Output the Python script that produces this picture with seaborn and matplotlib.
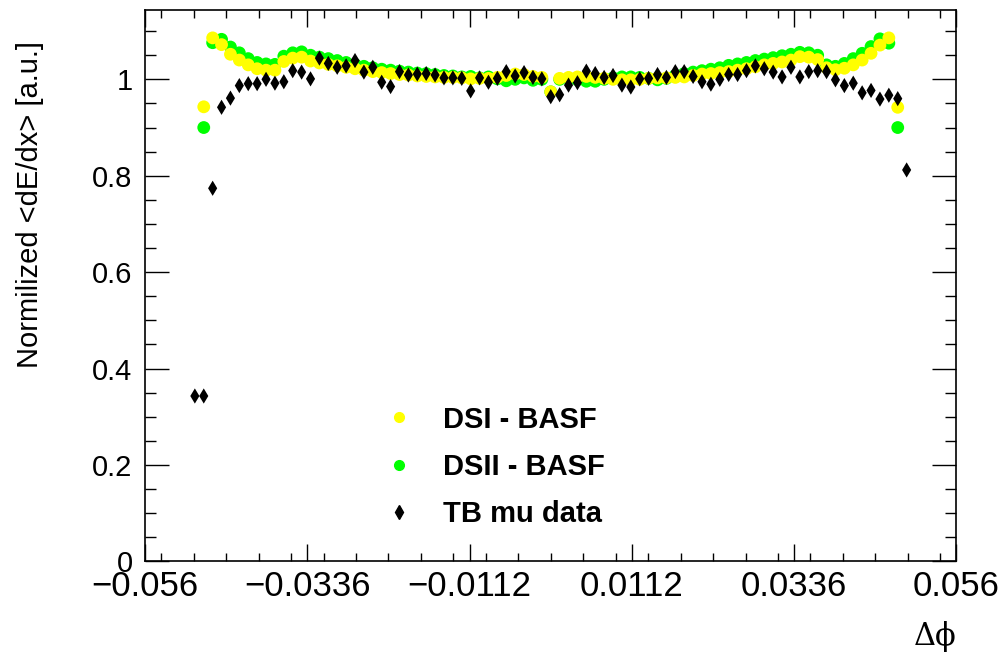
import numpy as np
import pandas as pd
import matplotlib
matplotlib.use("Agg")
import matplotlib.pyplot as plt
from matplotlib.lines import Line2D
from matplotlib.ticker import FixedLocator, MultipleLocator
import seaborn as sns

# ---- data -------------------------------------------------------------
bin_width = 0.001228
tb_bins = np.arange(-40, 41) * bin_width      # test-beam bin centres
sim_bins = np.arange(-39, 40) * bin_width     # simulation bin centres

dsi_basf = [
    0.943, 1.086, 1.072, 1.052, 1.040, 1.030, 1.022, 1.019, 1.019, 1.037,
    1.044, 1.046, 1.038, 1.034, 1.031, 1.028, 1.025, 1.022, 1.019, 1.016,
    1.014, 1.012, 1.010, 1.009, 1.007, 1.006, 1.005, 1.004, 1.004, 1.003,
    1.001, 1.002, 1.002, 1.004, 1.008, 1.011, 1.010, 1.006, 1.004, 0.974,
    1.002, 1.004, 1.005, 1.006, 1.004, 1.002, 1.000, 0.999, 0.999, 1.000,
    1.002, 1.003, 1.003, 1.004, 1.005, 1.008, 1.011, 1.012, 1.014, 1.016,
    1.019, 1.022, 1.026, 1.030, 1.033, 1.036, 1.040, 1.047, 1.046, 1.041,
    1.024, 1.020, 1.023, 1.030, 1.040, 1.054, 1.071, 1.086, 0.942,
]

dsii_basf = [
    0.900, 1.076, 1.083, 1.067, 1.055, 1.043, 1.035, 1.032, 1.031, 1.048,
    1.055, 1.057, 1.050, 1.046, 1.043, 1.039, 1.035, 1.031, 1.027, 1.024,
    1.021, 1.019, 1.017, 1.015, 1.013, 1.012, 1.010, 1.008, 1.007, 1.005,
    1.006, 1.003, 1.005, 1.001, 0.997, 1.000, 1.003, 0.998, 1.000, 0.974,
    1.000, 1.002, 0.999, 0.996, 0.996, 1.000, 1.003, 1.005, 1.005, 1.004,
    1.002, 0.999, 1.002, 1.008, 1.012, 1.015, 1.018, 1.021, 1.024, 1.029,
    1.032, 1.035, 1.039, 1.042, 1.045, 1.049, 1.052, 1.056, 1.055, 1.050,
    1.030, 1.027, 1.033, 1.043, 1.054, 1.068, 1.084, 1.075, 0.900,
]

tb_mu_data = [
    0.343, 0.343, 0.774, 0.942, 0.961, 0.987, 0.991, 0.991, 1.000, 0.992,
    0.995, 1.018, 1.015, 1.001, 1.044, 1.033, 1.025, 1.028, 1.039, 1.015,
    1.025, 0.994, 0.985, 1.016, 1.009, 1.011, 1.012, 1.009, 1.003, 1.003,
    1.002, 0.976, 1.003, 0.994, 1.002, 1.016, 1.007, 1.014, 1.004, 1.001,
    0.964, 0.968, 0.988, 0.993, 1.017, 1.012, 1.004, 1.008, 0.988, 0.984,
    1.001, 1.002, 1.010, 1.004, 1.016, 1.016, 1.006, 0.995, 0.990, 1.000,
    1.010, 1.010, 1.018, 1.028, 1.022, 1.015, 1.005, 1.025, 1.005, 1.016,
    1.018, 1.016, 0.999, 0.987, 0.992, 0.972, 0.977, 0.959, 0.967, 0.960,
    0.812,
]
tb_mu_err = 0.009

series_labels = ["DSI - BASF", "DSII - BASF", "TB mu data"]
x_ticks = [-0.056, -0.0336, -0.0112, 0.0112, 0.0336, 0.056]
x_tick_labels = ["\u22120.056", "\u22120.0336", "\u22120.0112", "0.0112", "0.0336", "0.056"]
y_ticks = [0, 0.2, 0.4, 0.6, 0.8, 1.0]
y_tick_labels = ["0", "0.2", "0.4", "0.6", "0.8", "1"]

sim = pd.concat([
    pd.DataFrame({"dphi": sim_bins, "dedx": dsii_basf, "sample": series_labels[1]}),
    pd.DataFrame({"dphi": sim_bins, "dedx": dsi_basf, "sample": series_labels[0]}),
])
tb = pd.DataFrame({"dphi": tb_bins, "dedx": tb_mu_data})

# ---- style ------------------------------------------------------------
sns.set_style("ticks")
plt.rcParams["font.family"] = ["Liberation Sans", "DejaVu Sans"]
plt.rcParams["axes.linewidth"] = 1.2
plt.rcParams["text.color"] = "black"
plt.rcParams["axes.labelcolor"] = "black"
plt.rcParams["xtick.color"] = "black"
plt.rcParams["ytick.color"] = "black"

YELLOW = "#ffff00"
GREEN = "#00ff00"

fig = plt.figure(figsize=(9.98, 6.55), dpi=100)
ax = fig.add_axes([0.1453, 0.1430, 0.8131, 0.8417])

# simulation samples (DSII underneath, DSI on top)
sns.scatterplot(data=sim[sim["sample"] == series_labels[1]], x="dphi", y="dedx",
                color=GREEN, s=85, marker="o", edgecolor="none", linewidth=0,
                ax=ax, zorder=2, legend=False)
sns.scatterplot(data=sim[sim["sample"] == series_labels[0]], x="dphi", y="dedx",
                color=YELLOW, s=85, marker="o", edgecolor="none", linewidth=0,
                ax=ax, zorder=3, legend=False)

# test-beam data with vertical error bars
ax.errorbar(tb["dphi"], tb["dedx"], yerr=tb_mu_err, fmt="none",
            ecolor="black", elinewidth=1.6, capsize=0, zorder=4)
sns.scatterplot(data=tb, x="dphi", y="dedx", color="black", s=60, marker="d",
                edgecolor="none", linewidth=0, ax=ax, zorder=5, legend=False)

# ---- axes -------------------------------------------------------------
ax.set_xlim(-0.056, 0.056)
ax.set_ylim(0, 1.1438)
ax.xaxis.set_major_locator(FixedLocator(x_ticks))
ax.set_xticklabels(x_tick_labels)
ax.xaxis.set_minor_locator(MultipleLocator(0.00448))
ax.yaxis.set_major_locator(FixedLocator(y_ticks))
ax.set_yticklabels(y_tick_labels)
ax.yaxis.set_minor_locator(MultipleLocator(0.05))

ax.tick_params(axis="both", which="both", direction="in", top=True, right=True,
               colors="black", width=1.0)
ax.tick_params(axis="y", which="major", length=17, pad=9, labelsize=21)
ax.tick_params(axis="y", which="minor", length=8)
ax.tick_params(axis="x", which="major", length=12, pad=6, labelsize=25)
ax.tick_params(axis="x", which="minor", length=6)
for sp in ax.spines.values():
    sp.set_visible(True)
    sp.set_color("black")

ax.set_xlabel("")
ax.set_ylabel("")
fig.text(30 / 998, 1 - 205 / 655, "Normilized <dE/dx> [a.u.]", rotation=90,
         ha="center", va="center", fontsize=21, color="black")
fig.text(957 / 998, 1 - 637 / 655, "\u0394\u03d5", ha="right", va="center",
         fontsize=22, family=["DejaVu Serif", "Liberation Serif"], color="black")

# ---- legend -----------------------------------------------------------
handles = [
    Line2D([], [], ls="", marker="o", color=YELLOW, markersize=7),
    Line2D([], [], ls="", marker="o", color=GREEN, markersize=7),
    Line2D([], [], ls="", marker="d", color="black", markersize=7),
]
leg = ax.legend(handles, series_labels, loc="upper left",
                bbox_to_anchor=(367 / 998, 1 - 391 / 655), bbox_transform=fig.transFigure,
                frameon=False, prop={"weight": "bold", "size": 21},
                handlelength=1.2, handletextpad=0.9, labelspacing=0.66, borderpad=0)
for t in leg.get_texts():
    t.set_color("black")

fig.savefig("out.png", dpi=100, facecolor="white")
